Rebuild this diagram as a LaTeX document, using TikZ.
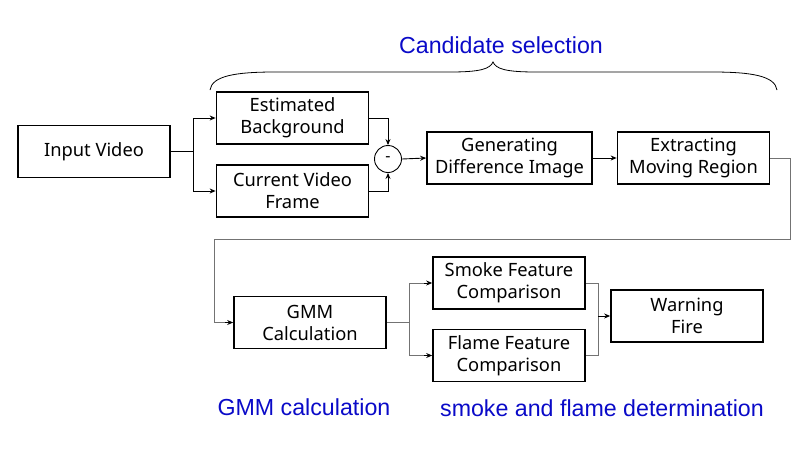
\documentclass[tikz,border=0pt]{standalone}
\usepackage{fontspec}
\setmainfont{Noto Sans}
\newfontfamily\labelfont{Liberation Sans}
\usepackage{xcolor}
\usepackage{tikz}
\usetikzlibrary{arrows.meta,positioning}
\definecolor{labelblue}{RGB}{10,10,200}

\begin{document}
\begin{tikzpicture}[x=1pt, y=-1pt,
    every node/.style={font=\fontsize{18.3}{22}\selectfont},
    block/.style={draw, rectangle, line width=1.7pt, align=center, minimum width=152pt, minimum height=52pt, inner sep=2pt},
    link/.style={line width=0.9pt},
    glink/.style={line width=0.9pt, draw=black!55},
    tip/.style={-{Stealth[length=6pt,width=5pt]}},
    caption/.style={text=labelblue, font=\labelfont\fontsize{23.2}{27}\selectfont}]
    \useasboundingbox (0,0) rectangle (812,472);

    % Candidate selection
    \node[block] (in) at (94,151.5) {Input Video};
    \node[block] (eb) at (292.5,118) {Estimated\\Background};
    \node[block] (cvf) at (292.5,191) {Current Video\\Frame};
    \node[draw, circle, line width=0.9pt, minimum size=27pt, inner sep=0pt, font=\bfseries\fontsize{16}{16}\selectfont] (minus) at (388,159) {-};
    \node[block, minimum width=165pt] (gdi) at (509.5,158) {Generating\\Difference Image};
    \node[block] (emr) at (693.5,158) {Extracting\\Moving Region};

    % GMM calculation and determination
    \node[block] (gmm) at (310,322.5) {GMM\\Calculation};
    \node[block] (sfc) at (509,283) {Smoke Feature\\Comparison};
    \node[block] (ffc) at (509,355.5) {Flame Feature\\Comparison};
    \node[block] (wf) at (687,316) {Warning\\Fire};

    % captions
    \node[caption] (candsel) at (501,45) {Candidate selection};
    \node[caption] (gmmcap) at (304,407) {GMM calculation};
    \node[caption] (detcap) at (602,408) {smoke and flame determination};

    % brace
    \draw[line width=0.8pt] (210,90) .. controls (212,76) and (235,72) .. (275,72)
        -- (450,72) .. controls (480,72) and (490,69) .. (493,62)
        .. controls (496,69) and (506,72) .. (536,72)
        -- (712,72) .. controls (752,72) and (775,76) .. (777,90);

    % connectors
    \coordinate (split1) at (193,151.5);
    \coordinate (turn1) at (790,158);
    \coordinate (turn2) at (790,239);
    \coordinate (turn3) at (214,239);
    \coordinate (split2) at (409,322.5);
    \coordinate (merge) at (598,316);

    \draw[link] (in.east) -- (split1);
    \draw[link, tip] (split1) |- (eb.west);
    \draw[link, tip] (split1) |- (cvf.west);
    \draw[link, tip] (eb.east) -| (minus.north);
    \draw[link, tip] (cvf.east) -| (minus.south);
    \draw[link, tip] (minus.east) -- (gdi.west);
    \draw[link, tip] (gdi.east) -- (emr.west);
    \draw[glink] (emr.east) -- (turn1) -- (turn2) -- (turn3);
    \draw[glink] (turn3) |- ([xshift=-8pt]gmm.west);
    \draw[link, tip] ([xshift=-8pt]gmm.west) -- (gmm.west);
    \draw[glink] (gmm.east) -- (split2);
    \draw[glink] (split2) |- ([xshift=-8pt]sfc.west);
    \draw[glink] (split2) |- ([xshift=-8pt]ffc.west);
    \draw[link, tip] ([xshift=-8pt]sfc.west) -- (sfc.west);
    \draw[link, tip] ([xshift=-8pt]ffc.west) -- (ffc.west);
    \draw[glink] (sfc.east) -| (merge);
    \draw[glink] (ffc.east) -| (merge);
    \draw[link, tip] (merge) -- (wf.west);
\end{tikzpicture}
\end{document}
